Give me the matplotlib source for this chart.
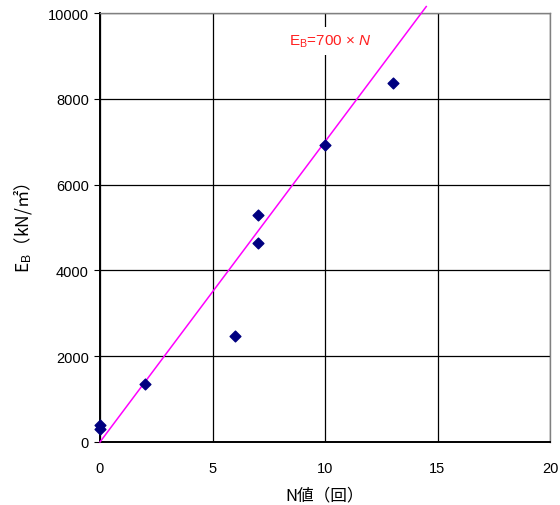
import matplotlib
matplotlib.use("Agg")
import matplotlib.pyplot as plt
import numpy as np

plt.rcParams['font.family'] = ['Liberation Sans', 'Noto Sans CJK JP']
plt.rcParams['mathtext.fontset'] = 'custom'
plt.rcParams['mathtext.rm'] = 'Liberation Sans'
plt.rcParams['mathtext.it'] = 'Liberation Sans:italic'

# measured points
n_values = [0, 0, 2, 6, 7, 7, 10, 13]
eb_values = [300, 390, 1350, 2460, 4650, 5300, 6920, 8370]

# fitted relation E_B = 700 * N
coef = 700
n_fit = [0, 14.5]

fig = plt.figure(figsize=(5.6, 5.06), dpi=100)
ax = fig.add_axes([100 / 560, 1 - 443 / 506, 450 / 560, 429 / 506])

ax.set_xlim(0, 20)
ax.set_ylim(0, 10000)
ax.set_xticks(np.arange(0, 21, 5))
ax.set_yticks(np.arange(0, 10001, 2000))
ax.grid(True, color='black', linewidth=0.9)
ax.set_axisbelow(True)

ax.plot(n_fit, [coef * n for n in n_fit], color='#FF00FF', linewidth=1.1,
        clip_on=False, zorder=3)
ax.scatter(n_values, eb_values, marker='D', s=30, color='#000080', zorder=4,
           clip_on=False)

ax.text(10.25, 9350, r"E$_\mathrm{B}$=700 × $\it{N}$", color='#FF2020', fontsize=11,
        ha='center', va='center', zorder=5,
        bbox=dict(facecolor='white', edgecolor='none', pad=4))

for side in ['top', 'right']:
    ax.spines[side].set_color('#808080')
    ax.spines[side].set_linewidth(1.0)
for side in ['left', 'bottom']:
    ax.spines[side].set_linewidth(1.4)

ax.tick_params(axis='x', length=0, pad=14, labelsize=10.5)
ax.tick_params(axis='y', length=4, direction='out', pad=4, labelsize=10.5)

ax.set_xlabel("N値（回）", fontsize=12, labelpad=8, family='Noto Sans CJK JP')
ax.set_ylabel("E$_\\mathrm{B}$（kN/㎡）", fontsize=12.5, labelpad=10,
              family='Noto Sans CJK JP')

fig.savefig("out.png", dpi=100)
